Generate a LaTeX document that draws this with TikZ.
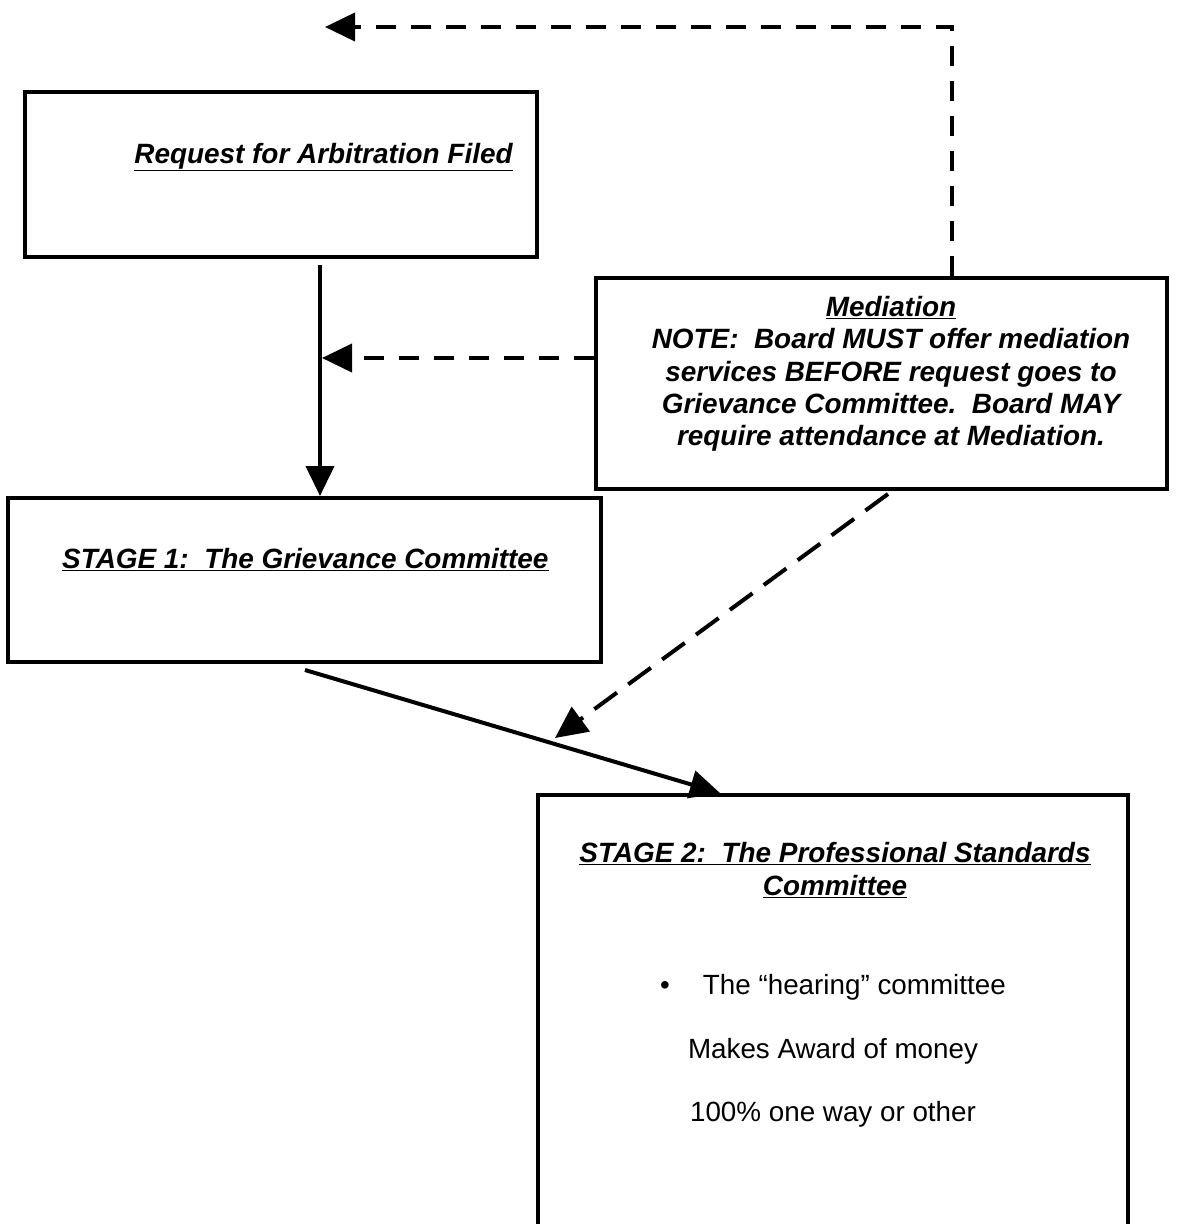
\documentclass[tikz,border=0pt]{standalone}
\usepackage{fontspec}
\setmainfont{Liberation Sans}
\usetikzlibrary{arrows.meta,calc}
\begin{document}
\begin{tikzpicture}[x=1pt,y=-1pt,
  boxstyle/.style={draw=black,line width=4pt,rectangle,inner sep=0pt},
  headtext/.style={font=\fontsize{27.9}{32.3}\selectfont\bfseries\itshape,align=center,inner sep=0pt},
  bodytext/.style={font=\fontsize{27.8}{32}\selectfont,align=center,inner sep=0pt},
  solidarrow/.style={line width=4pt,-{Triangle[length=30pt,width=28pt]}},
  dasharrow/.style={line width=4pt,dash pattern=on 20pt off 15pt,-{Triangle[length=30pt,width=28pt]}},
  diagarrow/.style={line width=4pt,dash pattern=on 28pt off 14pt,-{Triangle[length=32pt,width=30pt]}}
]
\useasboundingbox (0,0) rectangle (1181,1224);
\fill[white] (0,0) rectangle (1181,1224);

% boxes
\node[boxstyle,minimum width=512pt,minimum height=165pt] (b1) at (281,174.5) {};
\node[boxstyle,minimum width=571pt,minimum height=211pt] (med) at (881.5,383.5) {};
\node[boxstyle,minimum width=593pt,minimum height=164pt] (s1) at (304.5,580) {};
\node[boxstyle,minimum width=590pt,minimum height=445pt] (s2) at (833,1017.5) {};

% texts
\node[headtext] (t1) at (323.5,157) {\underline{Request for Arbitration Filed}};
\node[headtext] (tm) at (891,374) {\underline{Mediation}\\
NOTE:\ \ Board MUST offer mediation\\
services BEFORE request goes to\\
Grievance Committee.\ \ Board MAY\\
require attendance at Mediation.};
\node[headtext,anchor=west] (ts1) at (62,560) {\underline{STAGE 1:\ \ The Grievance Committee}};
\node[headtext] (ts2) at (835,870) {\underline{STAGE 2:\ \ The Professional Standards}\\\underline{Committee}};
\node[bodytext] (l1) at (833,987) {\textbullet\hspace{33pt}The “hearing” committee};
\node[bodytext] (l2) at (833,1051) {Makes Award of money};
\node[bodytext] (l3) at (833,1114) {100\% one way or other};

% helper coordinates
\coordinate (join) at (322,358);
\coordinate (topend) at (325,27);
\coordinate (hit) at (555,738);

% connectors
\draw[solidarrow] ($(b1.south)+(39,6)$) -- ($(s1.north)+(15.5,0)$);
\draw[dasharrow] ($(med.west)+(0,-25.5)$) -- (join);
\draw[dasharrow] ($(med.north)+(70.5,0)$) |- (topend);
\draw[solidarrow] ($(s1.south)+(0.5,6)$) -- ($(s2.north)+(-113,0)$);
\draw[diagarrow] ($(med.south)+(6.5,3)$) -- (hit);
\end{tikzpicture}
\end{document}
